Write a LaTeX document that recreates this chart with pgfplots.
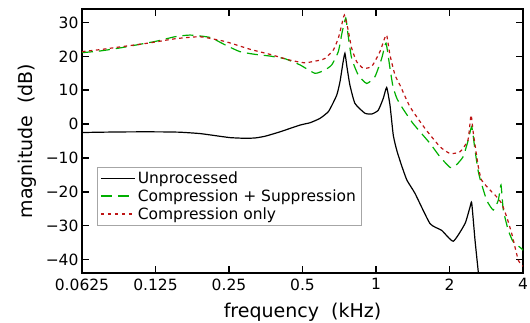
\documentclass[border=0pt]{standalone}
\usepackage{fontspec}
\setmainfont{DejaVu Sans}
\usepackage{pgfplots}
\pgfplotsset{compat=1.18}
\definecolor{cgreen}{RGB}{0,175,0}
\definecolor{cred}{RGB}{190,20,20}
\newcommand{\tickfont}{\fontsize{15.5}{18}\selectfont}
\newcommand{\labfont}{\fontsize{19}{22}\selectfont}
\begin{document}
\begin{tikzpicture}
\begin{semilogxaxis}[
  at={(0,0)}, anchor=south west,
  scale only axis, width=441pt, height=264pt,
  log basis x=2,
  xmin=0.0625, xmax=4, ymin=-44, ymax=34,
  xtick={0.0625,0.125,0.25,0.5,1,2,4},
  xticklabels={0.0625,0.125,0.25,0.5,1,2,4},
  ytick={-40,-30,-20,-10,0,10,20,30},
  yticklabels={−40,−30,−20,−10,0,10,20,30},
  minor tick num=0,
  /pgf/number format/assume math mode=true,
  tick align=inside,
  major tick length=7pt,
  tick style={line width=1.5pt, black},
  axis line style={line width=1.6pt},
  xticklabel style={font=\tickfont, yshift=-2pt},
  yticklabel style={font=\tickfont},
  xlabel style={font=\labfont, yshift=-6pt},
  ylabel style={font=\labfont, yshift=2pt},
  xlabel={frequency\ \ (kHz)},
  ylabel={magnitude\ \ (dB)},
  legend style={at={(rel axis cs:0.034,0.403)}, anchor=north west,
    draw=gray!70, font=\tickfont, cells={anchor=west},
    row sep=0.5pt, inner ysep=3pt, inner xsep=3pt},
  legend image code/.code={\draw[#1, line width=1.6pt] (0pt,0pt) -- (34pt,0pt);},
]
\addplot[draw=black, line width=1.2pt, smooth, tension=0.3] coordinates {
(0.0625,-2.5) (0.0741,-2.4) (0.0983,-2.3) (0.1304,-2.3) (0.1575,-2.4) (0.190,-2.8)
(0.219,-3.4) (0.2524,-4.0) (0.291,-4.2) (0.3196,-4.1) (0.351,-3.6) (0.404,-2.3)
(0.488,-0.3) (0.537,0.4) (0.590,1.7) (0.640,3.8) (0.690,8.5) (0.712,12.5)
(0.732,18) (0.746,20.9) (0.760,17) (0.782,11.5) (0.820,6.1) (0.901,3.2)
(0.963,3.0) (1.022,4.1) (1.071,7.6) (1.106,10.8) (1.141,5.6) (1.177,-3.3)
(1.219,-8) (1.278,-12.6) (1.339,-16.6) (1.445,-20.5) (1.664,-29.4) (1.858,-31.4)
(2.073,-34.6) (2.315,-29.4) (2.427,-24.5) (2.466,-23.3) (2.544,-34.3) (2.624,-43.7) (2.70,-52)
};
\addlegendentry{Unprocessed}
\addplot[draw=cgreen, line width=1.2pt, dash pattern=on 11pt off 6pt, smooth, tension=0.3] coordinates {
(0.0625,21.1) (0.0741,21.6) (0.0894,22.5) (0.1244,24.4) (0.150,25.8) (0.1731,26.3)
(0.209,25.6) (0.241,23.4) (0.277,21.4) (0.3196,20.6) (0.368,20.1) (0.424,19.3)
(0.488,17.5) (0.5625,15) (0.618,16) (0.659,17.5) (0.701,21.4) (0.726,27)
(0.752,31.3) (0.768,26.5) (0.795,19.4) (0.846,14.5) (0.916,12) (0.990,14)
(1.055,19.4) (1.099,23.9) (1.141,16.5) (1.174,11) (1.219,7.5) (1.290,4.5)
(1.417,0.2) (1.664,-5.7) (1.829,-9.7) (2.010,-12.8) (2.105,-12.5) (2.272,-9.7)
(2.381,-5) (2.466,-0.8) (2.544,-7.7) (2.617,-13.6) (2.666,-16.1) (2.840,-22.5)
(3.023,-25.4) (3.169,-22.5) (3.25,-18) (3.322,-25.4) (3.482,-31.4) (3.650,-34.8)
(3.95,-36.8) (4,-37.3)
};
\addlegendentry{Compression + Suppression}
\addplot[draw=cred, line width=1.2pt, dash pattern=on 3.5pt off 3.5pt, smooth, tension=0.3] coordinates {
(0.0625,21.4) (0.0741,22.0) (0.0894,22.8) (0.1187,24) (0.150,25.2) (0.190,25.8)
(0.241,24.4) (0.305,22.1) (0.368,20.6) (0.444,18.9) (0.512,18.1) (0.590,18.9)
(0.618,19.4) (0.669,21.9) (0.701,25.4) (0.722,29) (0.742,32.2) (0.768,28)
(0.795,22.4) (0.834,18.4) (0.887,16.5) (0.960,17) (1.038,21.4) (1.08,25)
(1.106,26.3) (1.141,20.4) (1.196,14.5) (1.254,11.5) (1.378,5.1) (1.588,-1.3)
(1.829,-6.7) (2.010,-8.7) (2.208,-8.2) (2.381,-4.7) (2.450,2.7) (2.504,-2.7)
(2.624,-12.6) (2.709,-16.6) (2.931,-19.5) (3.121,-21.5) (3.272,-23.5) (3.429,-27.4)
(3.595,-32.3) (3.827,-40.2) (4,-42)
};
\addlegendentry{Compression only}
\end{semilogxaxis}
\pgfresetboundingbox
\path (-82pt,-49pt) rectangle (448pt,273pt);
\end{tikzpicture}
\end{document}
